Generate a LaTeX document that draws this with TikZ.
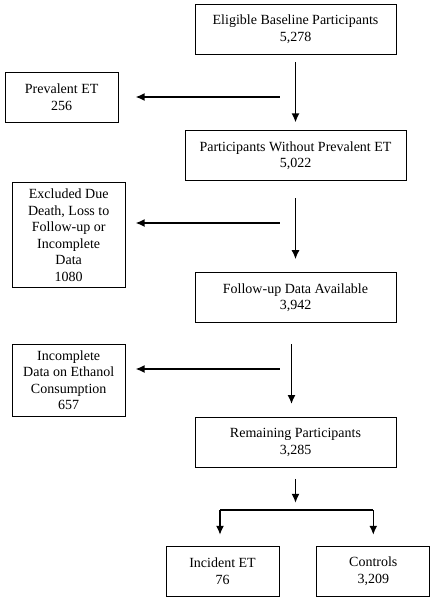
\documentclass[tikz,border=0pt]{standalone}
\usepackage{fontspec}
\setmainfont{Liberation Serif}
\usetikzlibrary{shapes,arrows.meta}
\usetikzlibrary{positioning}
\tikzset{auto,>={Latex[length=9pt,width=8pt]}, minimum size=0pt, font=\fontsize{14}{16.5}\selectfont}
\tikzstyle{block} = [draw, line width=0.8pt, fill=white, rectangle, minimum height=50pt, minimum width=201pt, text centered, align=center, inner sep=2pt]
\tikzstyle{side} = [block, minimum width=113pt]
\tikzstyle{flow} = [->, line width=1.5pt]
\tikzstyle{point} = [coordinate]

\begin{document}
\begin{tikzpicture}
		\useasboundingbox (0,0) rectangle (436pt,-600pt);

		\node [block] (elig) at (295.5pt,-29pt) {Eligible Baseline Participants\\5,278};
		\node [block, minimum width=221pt, below=76pt of elig] (nopre) {Participants Without Prevalent ET\\5,022};
		\node [block, below=91pt of nopre] (fup) {Follow-up Data Available\\3,942};
		\node [block, below=94pt of fup] (rem) {Remaining Participants\\3,285};

		\node [side, left=66pt of nopre, yshift=58.5pt] (prev) {Prevalent ET\\256};
		\node [side, minimum height=105pt, left=69pt of fup, yshift=62.5pt] (excl) {Excluded Due\\Death, Loss to\\Follow-up or\\Incomplete\\Data\\1080};
		\node [side, minimum height=72pt, left=69pt of rem, yshift=62pt] (incom) {Incomplete\\Data on Ethanol\\Consumption\\657};

		\node [side, below=78pt of rem, xshift=-73pt] (inc) {Incident ET\\76};
		\node [side, right=37pt of inc] (ctrl) {Controls\\3,209};

		\node [point, below=42pt of rem] (br) {};
		\node [point] at (0pt,-97pt) (y1) {};
		\node [point] at (0pt,-223pt) (y2) {};
		\node [point] at (0pt,-369pt) (y3) {};

		\draw [flow, shorten <=8pt, shorten >=8pt] (elig) -- (nopre);
		\draw [flow, shorten <=17pt, shorten >=13pt] (nopre) -- (fup);
		\draw [flow, shorten <=21pt, shorten >=13pt] ([xshift=-4pt]fup.south) -- ([xshift=-4pt]rem.north);

		\draw [flow, shorten >=17pt] ([xshift=-16pt]y1 -| elig.south) -- (y1 -| prev.east);
		\draw [flow, shorten >=10pt] ([xshift=-16pt]y2 -| elig.south) -- (y2 -| excl.east);
		\draw [flow, shorten >=10pt] ([xshift=-16pt]y3 -| elig.south) -- (y3 -| incom.east);

		\draw [flow, shorten <=11pt, shorten >=7pt] (rem) -- (br);
		\draw [line width=1.5pt] ([xshift=-2.5pt]br -| inc.north) -- (br -| ctrl.north);
		\draw [flow, shorten >=11pt] ([xshift=-2.5pt]br -| inc.north) -- ([xshift=-2.5pt]inc.north);
		\draw [flow, shorten >=11pt] (br -| ctrl.north) -- (ctrl);
	\end{tikzpicture}
\end{document}
